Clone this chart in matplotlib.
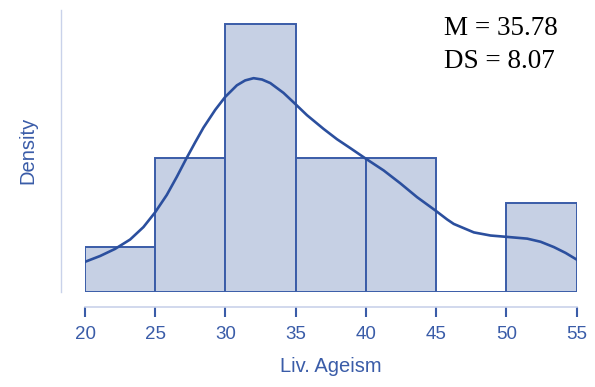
import numpy as np
import matplotlib.pyplot as plt

# histogram of Liv. Ageism (counts per 5-point bin)
bin_edges = [20, 25, 30, 35, 40, 45, 50, 55]
counts = [1, 3, 6, 3, 3, 0, 2]

# kde curve (in count units)
kde_x = [20.00, 21.07, 22.14, 23.21, 24.16, 24.99, 25.82, 26.54, 27.20,
         27.84, 28.43, 29.27, 29.98, 30.81, 31.40, 32.00, 32.60, 33.19,
         34.13, 35.04, 35.80, 36.99, 37.94, 38.89, 39.96, 41.26, 42.45,
         43.64, 44.95, 45.78, 46.25, 47.68, 48.87, 50.01, 51.48, 52.43,
         53.38, 54.21, 55.00]
kde_y = [0.67, 0.80, 0.96, 1.17, 1.45, 1.78, 2.17, 2.58, 2.98,
         3.35, 3.68, 4.08, 4.37, 4.63, 4.74, 4.79, 4.76, 4.68,
         4.46, 4.19, 3.96, 3.65, 3.42, 3.22, 2.99, 2.72, 2.43,
         2.12, 1.82, 1.62, 1.52, 1.33, 1.26, 1.23, 1.19, 1.12,
         1.00, 0.87, 0.72]

xticks = [20, 25, 30, 35, 40, 45, 50, 55]
mean_sd = ['M = 35.78', 'DS = 8.07']

blue = '#3a5ca8'
face = '#c6d0e4'
light = '#c9d2ea'

plt.rcParams['font.family'] = ['Liberation Sans', 'DejaVu Sans']

fig = plt.figure(figsize=(5.95, 3.87), dpi=100)
ax = fig.add_axes([0.1429, 0.2463, 0.8263, 0.7279])

widths = np.diff(bin_edges)
ax.bar(bin_edges[:-1], counts, width=widths, align='edge',
       color=face, edgecolor=blue, linewidth=1.4)
ax.plot(kde_x, kde_y, color='#2b4f9e', linewidth=1.9,
        solid_joinstyle='round')

ax.set_xlim(20, 55)
ax.set_ylim(0, 6.32)
ax.set_xticks(xticks)
ax.set_yticks([])

for s in ['top', 'right']:
    ax.spines[s].set_visible(False)
ax.spines['left'].set_position(('outward', 17))
ax.spines['bottom'].set_position(('outward', 11))
ax.spines['left'].set_color(light)
ax.spines['bottom'].set_color(light)
ax.spines['left'].set_linewidth(1.0)
ax.spines['bottom'].set_linewidth(1.2)

ax.tick_params(axis='x', colors=blue, length=7.5, width=1.5, pad=6,
               labelsize=13.5, labelcolor=blue)

ax.set_xlabel('Liv. Ageism', color=blue, fontsize=14.5, labelpad=10)
ax.set_ylabel('Density', color=blue, fontsize=14.5, labelpad=17)

fig.text(444 / 595, 1 - 35 / 387, mean_sd[0], family='Liberation Serif',
         fontsize=19.5, color='black', ha='left', va='baseline')
fig.text(444 / 595, 1 - 68 / 387, mean_sd[1], family='Liberation Serif',
         fontsize=19.5, color='black', ha='left', va='baseline')

fig.savefig('out.png', dpi=100)
